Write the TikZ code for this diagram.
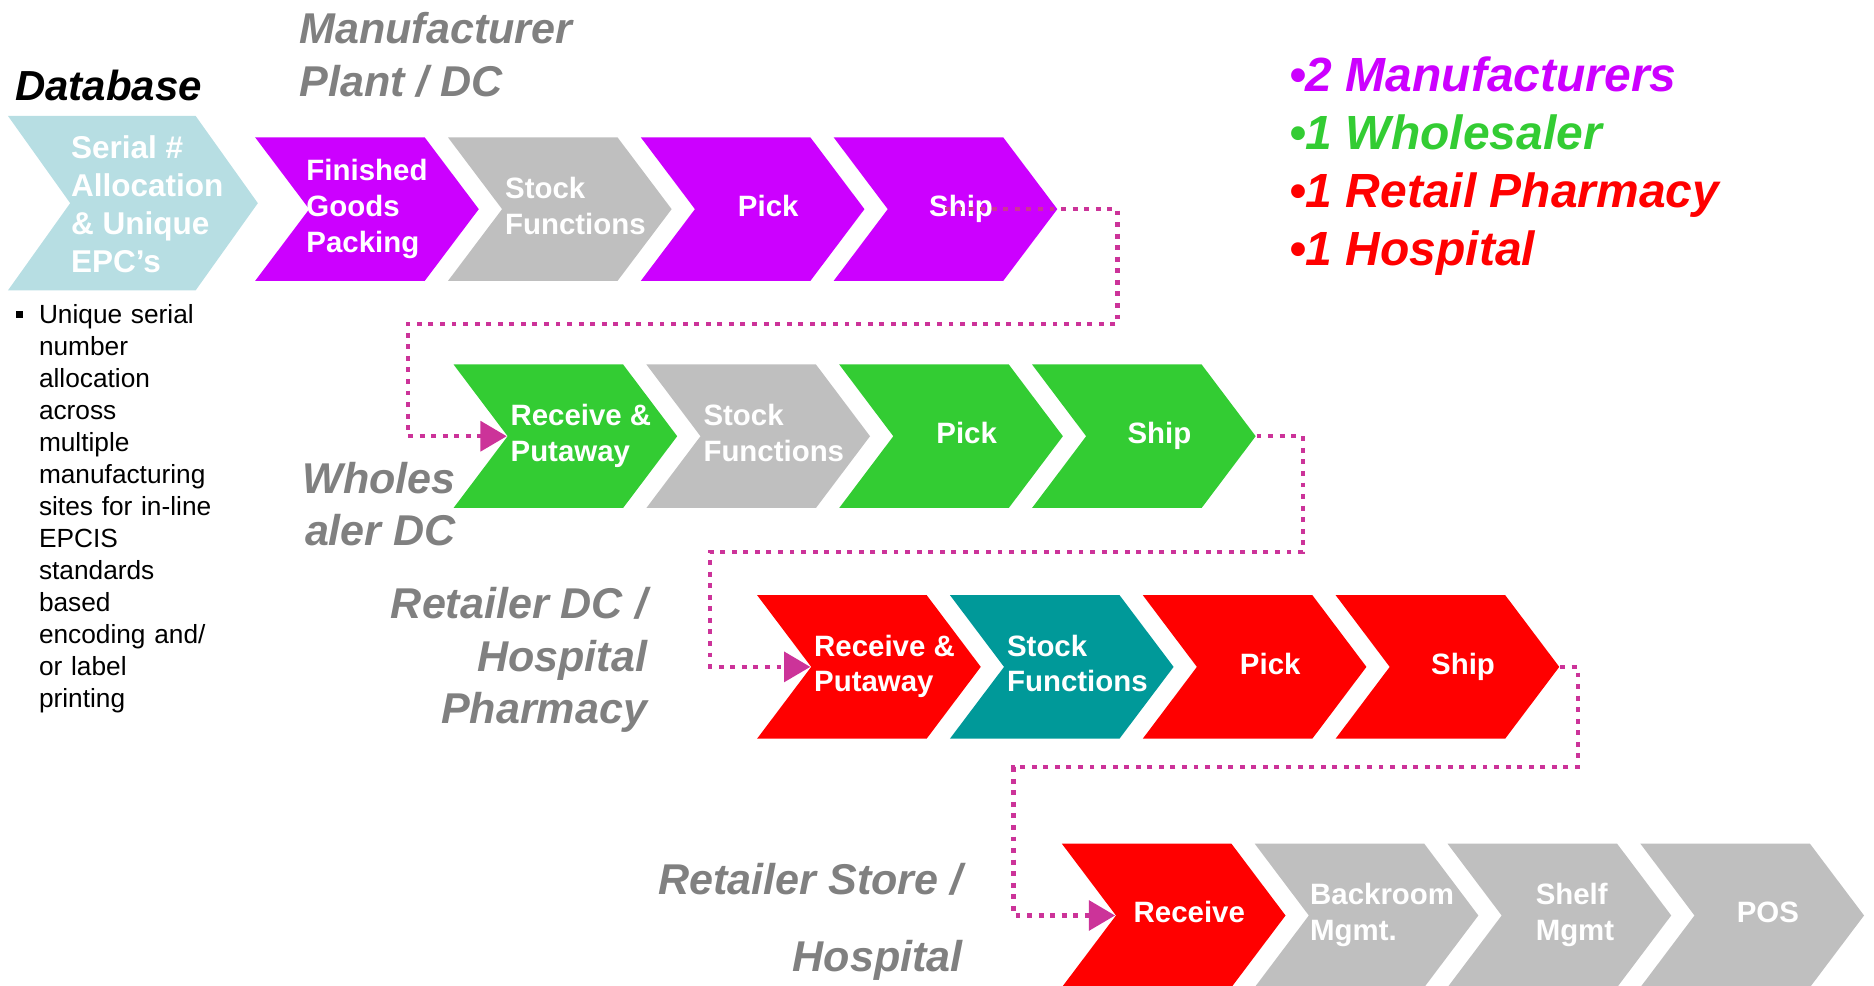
\documentclass[tikz,border=0pt]{standalone}
\usepackage{fontspec}
\setmainfont{Liberation Sans}
\usetikzlibrary{shapes.symbols,positioning,arrows.meta}

\definecolor{mfgpurple}{HTML}{CC00FF}
\definecolor{whsgreen}{HTML}{33CC33}
\definecolor{rtlred}{HTML}{FF0000}
\definecolor{stockteal}{HTML}{009999}
\definecolor{stepgray}{HTML}{BFBFBF}
\definecolor{dbblue}{HTML}{B7DEE3}
\definecolor{labelgray}{HTML}{808080}
\definecolor{flowpink}{HTML}{CC3399}

% text of a chevron, kept out of the shape's width
\newcommand\chevlines[2][8.9pt]{\makebox[0pt]{\hspace*{#1}\begin{tabular}{@{}l@{}}#2\end{tabular}}}

\tikzset{
  chev/.style={signal,signal from=west,signal to=east,signal pointer angle=106,
    fill=#1,minimum height=1.44cm,minimum width=2.244cm,inner sep=0pt,
    text=white,font=\fontsize{8.4}{10.2}\selectfont\bfseries},
  stagelabel/.style={text=labelgray,font=\fontsize{12.3}{15}\selectfont\bfseries\itshape,inner sep=0pt},
  flow/.style={draw=flowpink,line width=1.15pt,dash pattern=on 1.4pt off 1.9pt,
    -{Triangle[length=7.5pt,width=8.5pt]}},
}

\begin{document}
\begin{tikzpicture}[x=0.012cm,y=-0.012cm,node distance=0.216cm]
\useasboundingbox (0,0) rectangle (1568,825);

% database column
\node[font=\fontsize{12}{14}\selectfont\bfseries\itshape,anchor=base west,inner sep=0pt] (dbtitle) at (12,84) {Database};
\node[chev=dbblue,signal pointer angle=109,minimum height=1.752cm,minimum width=2.508cm,
  font=\fontsize{9}{10.9}\selectfont\bfseries,anchor=west] (serial) at (58,170) {\raisebox{-1.4pt}[\height][\depth]{\chevlines[8.2pt]{Serial \#\\Allocation\\\& Unique\\EPC’s}}};
\node[anchor=north west,inner sep=0pt,text width=2.4cm,align=left,font=\fontsize{7.5}{9.15}\selectfont] (dbnote) at (13,254)
  {\hangindent=6.5pt\hangafter=1\noindent\makebox[6.5pt][l]{\rule[1.6pt]{1.9pt}{1.9pt}}Unique serial\newline number\newline allocation\newline across\newline multiple\newline manufacturing\newline sites for in-line\newline EPCIS\newline standards\newline based\newline encoding and/\newline or label\newline printing\par};

% manufacturer
\node[stagelabel,align=left,anchor=north west] (mfglabel) at (250,10) {Manufacturer\\Plant / DC};
\node[chev=mfgpurple,anchor=west] (finish1) at (258,175) {\chevlines[0pt]{Finished\\Goods\\Packing}};
\node[chev=stepgray,right=of finish1] (stock1) {\chevlines{Stock\\Functions}};
\node[chev=mfgpurple,right=of stock1] (pick1) {\chevlines{Pick}};
\node[chev=mfgpurple,right=of pick1] (ship1) {\chevlines{Ship}};

% wholesaler
\node[stagelabel,align=right,anchor=north east] (whslabel) at (382,386) {Wholes\\aler DC};
\node[chev=whsgreen,anchor=west] (recv2) at (424,365) {\chevlines{Receive \&\\Putaway}};
\node[chev=stepgray,right=of recv2] (stock2) {\chevlines{Stock\\Functions}};
\node[chev=whsgreen,right=of stock2] (pick2) {\chevlines{Pick}};
\node[chev=whsgreen,right=of pick2] (ship2) {\chevlines{Ship}};

% retailer dc / hospital pharmacy
\node[stagelabel,align=right,anchor=north east] (rdclabel) at (542,491) {Retailer DC /\\Hospital\\Pharmacy};
\node[chev=rtlred,anchor=west] (recv3) at (678,558) {\chevlines{Receive \&\\Putaway}};
\node[chev=stockteal,right=of recv3] (stock3) {\chevlines{Stock\\Functions}};
\node[chev=rtlred,right=of stock3] (pick3) {\chevlines{Pick}};
\node[chev=rtlred,right=of pick3] (ship3) {\chevlines{Ship}};

% retailer store / hospital
\node[stagelabel,align=right,anchor=north east,font=\fontsize{12.3}{21.9}\selectfont\bfseries\itshape] (rstlabel) at (806,722) {Retailer Store /\\Hospital};
\node[chev=rtlred,anchor=west] (recv4) at (933,766) {\chevlines{Receive}};
\node[chev=stepgray,right=of recv4] (back4) {\chevlines{Backroom\\Mgmt.}};
\node[chev=stepgray,right=of back4] (shelf4) {\chevlines{Shelf\\Mgmt}};
\node[chev=stepgray,right=of shelf4] (pos4) {\chevlines{POS}};

% legend
\node[anchor=north west,inner sep=0pt,align=left,font=\fontsize{13.7}{16.5}\selectfont\bfseries\itshape] (legend) at (1078,47)
  {\textcolor{mfgpurple}{•2 Manufacturers}\\\textcolor{whsgreen}{•1 Wholesaler}\\\textcolor{rtlred}{•1 Retail Pharmacy}\\\textcolor{rtlred}{•1 Hospital}};

% flow between tiers
\coordinate (turn1) at (935,271);
\coordinate (turn2) at (341,271);
\coordinate (turn3) at (1090,462);
\coordinate (turn4) at (594,462);
\coordinate (turn5) at (1320,642);
\coordinate (turn6) at (848,642);
\draw[flow] (ship1.center) -| (turn1) -- (turn2) |- (recv2.west);
\draw[flow] (ship2.east) -| (turn3) -- (turn4) |- (recv3.west);
\draw[flow] (ship3.east) -| (turn5) -- (turn6) |- (recv4.west);

\end{tikzpicture}
\end{document}
